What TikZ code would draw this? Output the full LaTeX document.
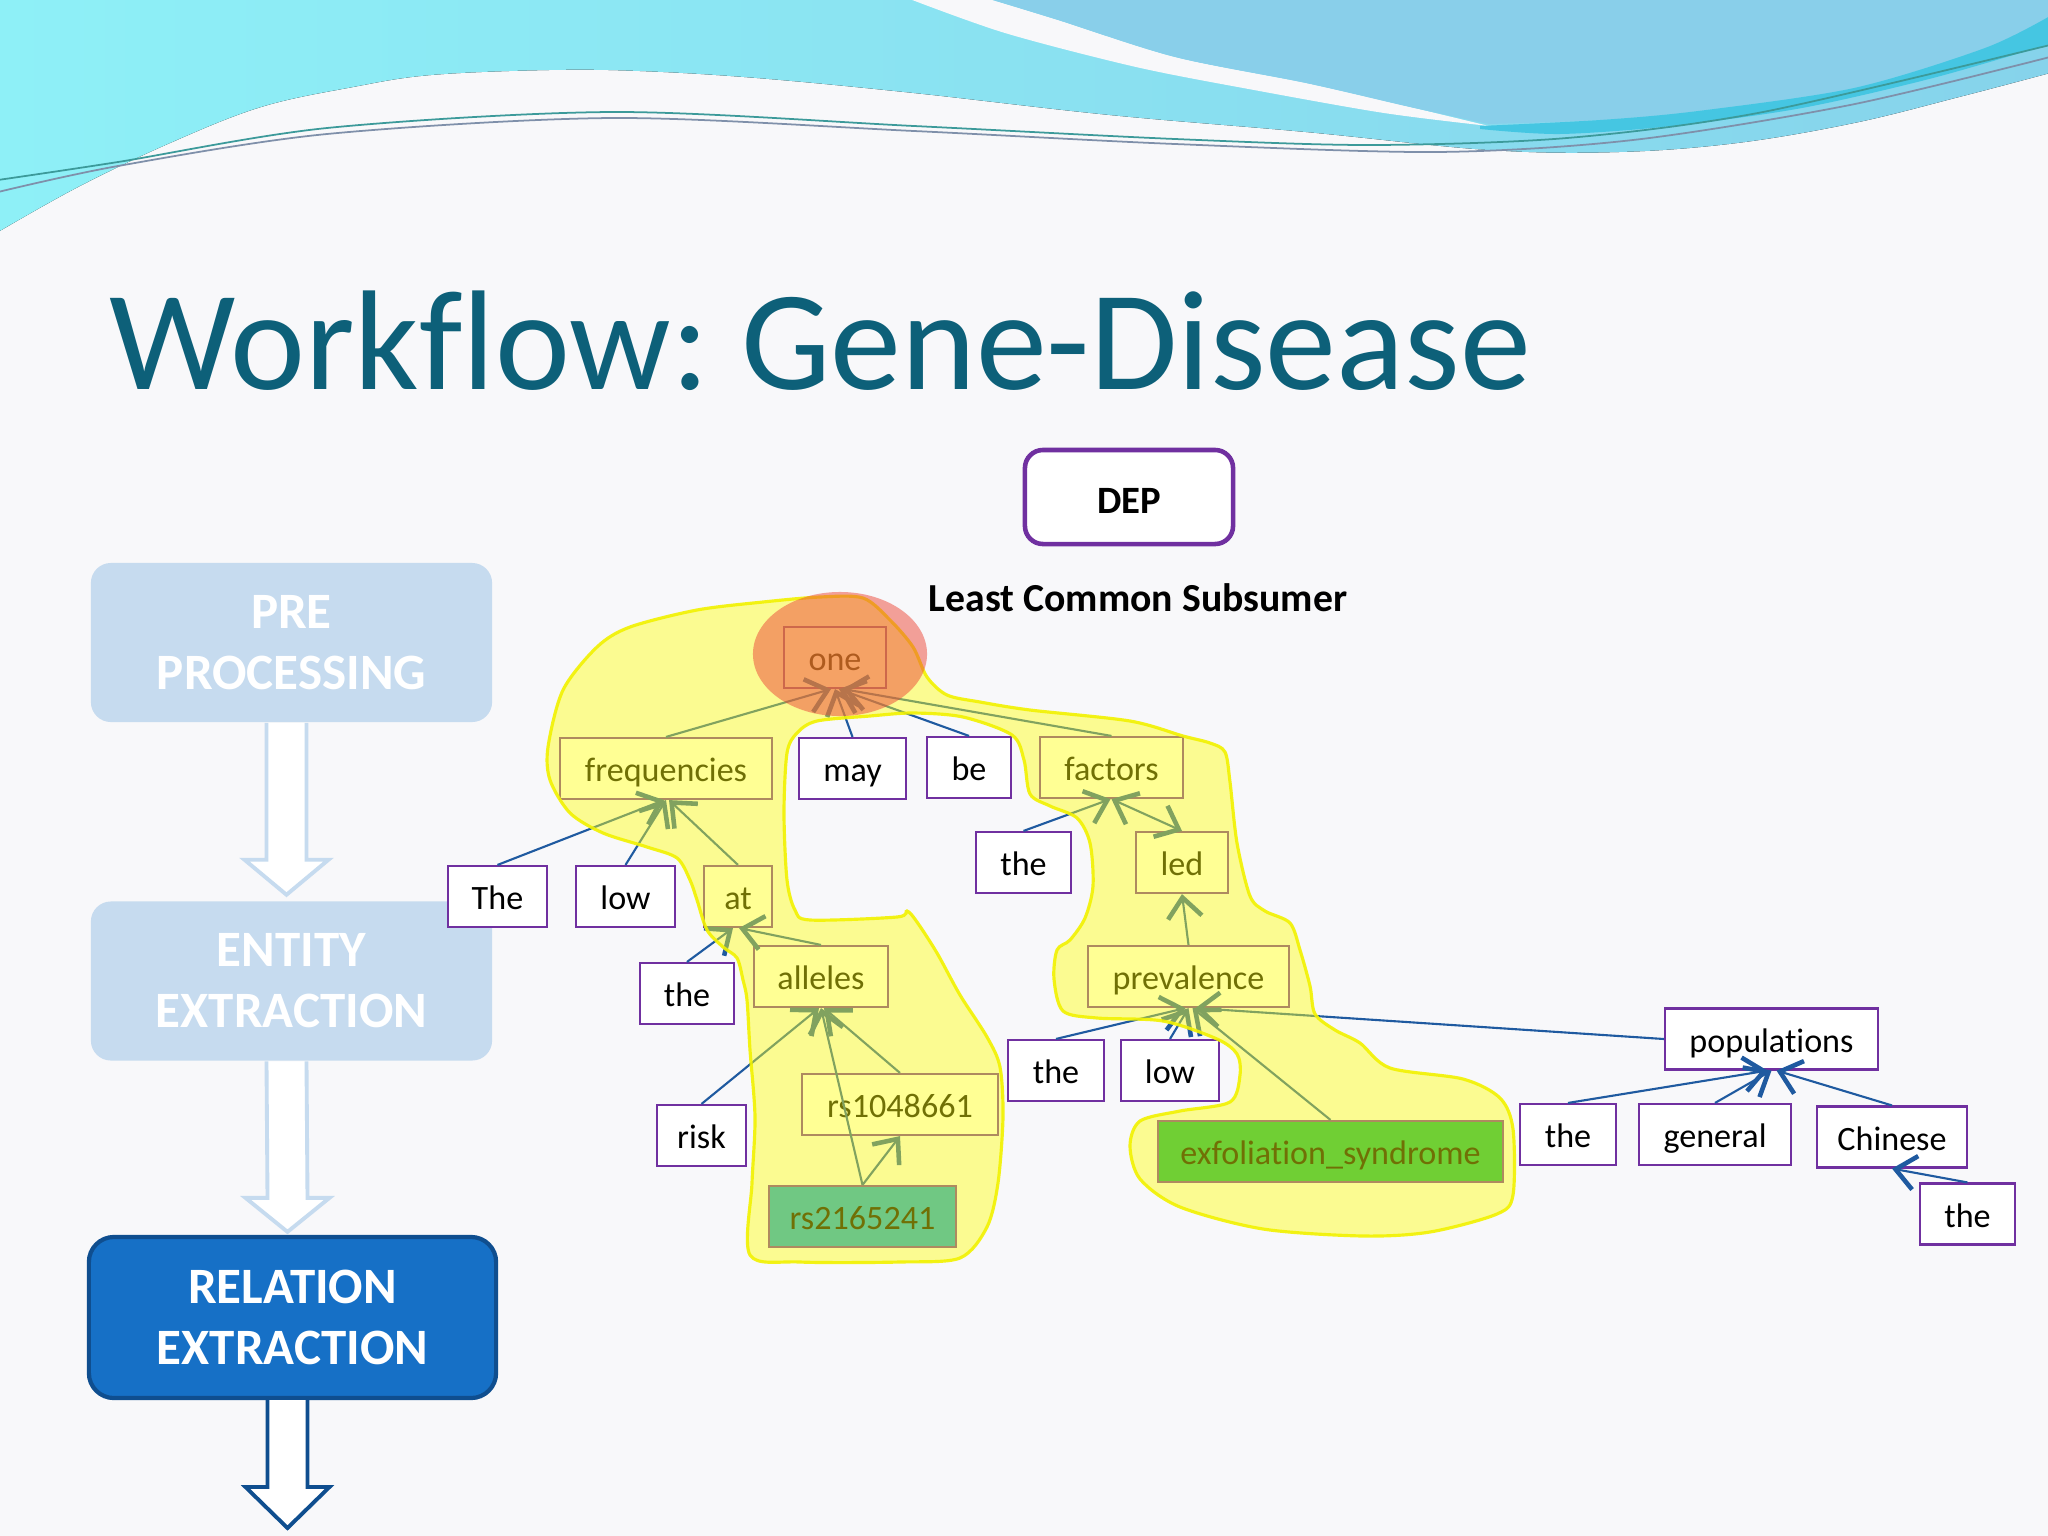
\documentclass[tikz,border=0pt]{standalone}
\usepackage{fontspec}
\setmainfont{Carlito}[Ligatures=NoCommon]
\usetikzlibrary{arrows.meta,calc}
\frenchspacing
\definecolor{bgc}{HTML}{F8F8FA}
\definecolor{titlec}{HTML}{0D6079}
\definecolor{purp}{HTML}{7030A0}
\definecolor{edgeb}{HTML}{1F5AA0}
\definecolor{paleb}{HTML}{C6DBEF}
\definecolor{relb}{HTML}{1670C6}
\definecolor{relbd}{HTML}{0F4E8F}
\definecolor{cyanw}{HTML}{8EF0F7}
\definecolor{cyanw2}{HTML}{86D3EB}
\definecolor{bluew}{HTML}{89CFEA}
\definecolor{ribbonc}{HTML}{45C6E2}
\definecolor{greenA}{HTML}{00AB54}
\definecolor{greenB}{HTML}{009EE0}
\definecolor{circc}{rgb}{0.93,0.28,0.22}
\definecolor{hiline}{HTML}{F2F200}
\definecolor{hifill}{rgb}{1,1,0.05}
\definecolor{waveA}{HTML}{3C9A9A}
\definecolor{waveB}{HTML}{7F90AA}
\begin{document}
\begin{tikzpicture}[x=0.01cm,y=-0.01cm,
  word/.style={draw=purp, line width=0.6pt, fill=white, inner sep=0pt,
    minimum height=0.61cm, text height=7.4pt, text depth=0pt,
    font=\fontsize{9.7}{11}\selectfont, text=black},
  dep/.style={draw=edgeb, line width=0.6pt,
    -{Straight Barb[length=0.2cm,width=0.34cm,line width=1.3pt]}},
  deptwo/.style={draw=edgeb, line width=0.6pt,
    {Straight Barb[length=0.2cm,width=0.34cm,line width=1.3pt]}-{Straight Barb[length=0.2cm,width=0.34cm,line width=1.3pt]}},
  stagebox/.style={minimum width=4.01cm, minimum height=1.59cm, align=center,
    text=white, font=\bfseries\fontsize{14.5}{17.4}\selectfont},
  blockarr/.style={line width=1.1pt, fill=white, line join=miter}
]
\useasboundingbox (0,0) rectangle (2048,1536);
\fill[bgc] (0,0) rectangle (2048,1536);

% ---- top waves
\fill[left color=cyanw, right color=cyanw2] (-2,-2) -- (2050,-2) -- (2050,73)
  -- plot[smooth, tension=0.6] coordinates {(2050,73) (1959,97) (1854,123) (1737,143) (1619,152) (1489,150) (1306,132) (1110,115) (914,93) (757,78) (640,71) (549,70) (431,75) (353,87) (261,107) (170,143) (78,187) (-2,232)} -- cycle;
\fill[bgc] plot[smooth] coordinates {(907,-2) (1005,33) (1136,67) (1254,90) (1384,113) (1489,126)}
  -- plot[smooth] coordinates {(1489,126) (1410,107) (1306,83) (1175,57) (1058,20) (986,-2)} -- cycle;
\fill[bluew] plot[smooth] coordinates {(986,-2) (1058,20) (1175,57) (1306,83) (1410,107) (1489,124)}
  -- plot[smooth] coordinates {(1489,124) (1600,120) (1698,111) (1854,88) (1985,48) (2050,18)} -- (2050,-2) -- cycle;
\fill[ribbonc] plot[smooth] coordinates {(1480,126) (1600,120) (1698,111) (1854,88) (1985,48) (2050,16)}
  -- (2050,44) -- plot[smooth] coordinates {(2050,44) (1933,78) (1802,108) (1672,126) (1560,134) (1480,129)} -- cycle;
\draw[waveA, line width=0.5pt] plot[smooth] coordinates {(-2,180) (118,162) (327,128) (614,112) (914,126) (1175,139) (1371,145) (1567,138) (1763,112) (2050,45)};
\draw[waveB, line width=0.5pt] plot[smooth] coordinates {(-2,192) (118,166) (327,134) (614,118) (914,131) (1175,144) (1436,152) (1633,140) (1850,105) (2050,57)};

% ---- title
\node[anchor=base west, inner sep=0pt, text=titlec, font=\fontsize{40.4}{48}\selectfont] (title) at (109,389) {Workflow: Gene-Disease};

% ---- left stages
\node[stagebox, fill=paleb, rounded corners=0.2cm] (pre) at (291.5,642.5) {PRE\\PROCESSING};
\node[stagebox, fill=paleb, rounded corners=0.2cm] (ent) at (291.5,981) {ENTITY\\EXTRACTION};
\node[stagebox, fill=relb, draw=relbd, line width=1.2pt, rounded corners=0.25cm, minimum width=4.07cm, minimum height=1.61cm] (rel) at (292.5,1317.5) {RELATION\\EXTRACTION};
\coordinate (a1s) at ([xshift=-0.05cm]pre.south);
\coordinate (a1t) at ([xshift=-0.05cm,yshift=0.06cm]ent.north);
\coordinate (a2s) at ([xshift=-0.05cm]ent.south);
\coordinate (a2t) at ([xshift=-0.05cm,yshift=0.03cm]rel.north);
\coordinate (a3s) at ([xshift=-0.05cm]rel.south);
\coordinate (a3t) at (287.5,1528);
\draw[blockarr, draw=paleb] ($(a1s)+(-20,0)$) -- ($(a1t)+(-20,-35)$) -- ($(a1t)+(-42,-35)$) -- (a1t) -- ($(a1t)+(42,-35)$) -- ($(a1t)+(20,-35)$) -- ($(a1s)+(20,0)$);
\draw[blockarr, draw=paleb] ($(a2s)+(-20,0)$) -- ($(a2t)+(-20,-34)$) -- ($(a2t)+(-42,-34)$) -- (a2t) -- ($(a2t)+(42,-34)$) -- ($(a2t)+(20,-34)$) -- ($(a2s)+(20,0)$);
\draw[blockarr, draw=relbd] ($(a3s)+(-20,0)$) -- ($(a3t)+(-20,-41)$) -- ($(a3t)+(-42,-41)$) -- (a3t) -- ($(a3t)+(42,-41)$) -- ($(a3t)+(20,-41)$) -- ($(a3s)+(20,0)$);

% ---- DEP and label
\node[draw=purp, line width=1.3pt, rounded corners=0.18cm, fill=white, minimum width=2.08cm, minimum height=0.94cm, text height=9.2pt, text depth=0pt, font=\bfseries\fontsize{11}{13}\selectfont] (dep) at (1129,497) {DEP};
\node[font=\bfseries\fontsize{11.3}{13}\selectfont, inner sep=0pt] (lcs) at (1138,598) {Least Common Subsumer};

% ---- tree words
\node[word, minimum width=1.02cm] (one) at (835,657.5) {one};
\node[word, minimum width=2.12cm] (frequencies) at (666,768.5) {frequencies};
\node[word, minimum width=1.07cm] (may) at (852.5,768.5) {may};
\node[word, minimum width=0.84cm] (be) at (969,767.5) {be};
\node[word, minimum width=1.43cm] (factors) at (1111.5,767.5) {factors};
\node[word, minimum width=0.99cm] (The) at (497.5,896.5) {The};
\node[word, minimum width=0.99cm] (low) at (625.5,896.5) {low};
\node[word, minimum width=0.68cm] (at) at (738,896.5) {at};
\node[word, minimum width=0.95cm] (theA) at (1023.5,862.5) {the};
\node[word, minimum width=0.92cm] (led) at (1182,862.5) {led};
\node[word, minimum width=0.94cm] (theB) at (687,993.5) {the};
\node[word, minimum width=1.34cm] (alleles) at (821,976.5) {alleles};
\node[word, minimum width=2.01cm] (prevalence) at (1188.5,976.5) {prevalence};
\node[word, minimum width=0.89cm] (risk) at (701.5,1135.5) {risk};
\node[word, minimum width=1.96cm] (rsA) at (900,1104.5) {rs1048661};
\node[word, minimum width=1.87cm, fill=greenB] (rsB) at (862.5,1216.5) {rs2165241};
\node[word, minimum width=0.96cm] (theC) at (1056,1070.5) {the};
\node[word, minimum width=0.98cm] (lowB) at (1170,1070.5) {low};
\node[word, minimum width=3.45cm, fill=greenA] (exf) at (1330.5,1151.5) {exfoliation\_syndrome};
\node[word, minimum width=2.13cm] (populations) at (1771.5,1039) {populations};
\node[word, minimum width=0.96cm] (theD) at (1568,1134.5) {the};
\node[word, minimum width=1.52cm] (general) at (1715,1134.5) {general};
\node[word, minimum width=1.50cm] (Chinese) at (1892,1137) {Chinese};
\node[word, minimum width=0.95cm] (theE) at (1967.5,1214) {the};

% ---- dependency edges
\draw[dep] (frequencies.north) -- ([xshift=-0.04cm]one.south);
\draw[dep] (may.north) -- (one.south);
\draw[dep] (be.north) -- ([xshift=0.04cm]one.south);
\draw[dep] (factors.north) -- ([xshift=0.08cm]one.south);
\draw[dep] (The.north) -- ([xshift=-0.02cm]frequencies.south);
\draw[dep] (low.north) -- (frequencies.south);
\draw[dep] (at.north) -- ([xshift=0.03cm]frequencies.south);
\draw[dep] (theB.north) -- ([xshift=-0.05cm]at.south);
\draw[dep] (alleles.north) -- ([xshift=0.01cm]at.south);
\draw[dep] (risk.north) -- ([xshift=-0.02cm]alleles.south);
\draw[dep] (rsB.north) -- (alleles.south);
\draw[dep] (rsA.north) -- ([xshift=0.03cm]alleles.south);
\draw[dep] (rsB.north) -- (rsA.south);
\draw[dep] (theA.north) -- ([xshift=-0.01cm]factors.south);
\draw[deptwo] (factors.south) -- (led.north);
\draw[dep] (prevalence.north) -- (led.south);
\draw[dep] (theC.north) -- ([xshift=-0.03cm]prevalence.south);
\draw[dep] (lowB.north) -- (prevalence.south);
\draw[dep] (exf.north) -- ([xshift=0.04cm]prevalence.south);
\draw[dep] (populations.west) -- ([xshift=0.07cm]prevalence.south);
\draw[dep] (theD.north) -- ([xshift=-0.04cm]populations.south);
\draw[dep] (general.north) -- (populations.south);
\draw[dep] (Chinese.north) -- ([xshift=0.05cm]populations.south);
\draw[dep] (theE.north) -- (Chinese.south);

% ---- highlight overlay
\def\blobpath{plot[smooth cycle, tension=0.5] coordinates {
(763,602) (820,597) (863,598) (890,620) (913,647) (927,677) (947,695) (980,702) (1030,710) (1130,721) (1183,736) (1210,743) (1225,752) (1230,782) (1237,843) (1250,896) (1265,911) (1290,923) (1300,950) (1310,986) (1315,1014) (1335,1030) (1360,1043) (1390,1068) (1463,1079) (1500,1098) (1513,1129) (1513,1195) (1497,1214) (1430,1232) (1363,1236) (1263,1229) (1180,1207) (1140,1179) (1130,1146) (1140,1121) (1180,1111) (1230,1102) (1240,1075) (1237,1054) (1217,1039) (1163,1021) (1097,1018) (1063,1011) (1054,979) (1057,950) (1070,940) (1085,918) (1093,886) (1090,843) (1077,818) (1050,806) (1030,794) (1024,760) (1012,735) (963,717) (913,713) (870,716) (817,721) (797,733) (787,753) (784,813) (787,880) (795,910) (810,920) (897,917) (907,911) (917,922) (937,953) (960,995) (987,1037) (1000,1067) (1003,1117) (998,1183) (987,1227) (960,1258) (900,1262) (800,1262) (750,1255) (752,1183) (755,1117) (750,1050) (747,1000) (743,980) (737,958) (723,947) (707,930) (697,900) (690,880) (677,858) (647,847) (603,833) (570,813) (550,780) (548,747) (563,690) (597,647) (630,627) (697,610)}}
\fill[hifill, fill opacity=0.44] \blobpath;
\draw[hiline, line width=0.9pt, opacity=0.9] \blobpath;
\fill[circc, fill opacity=0.5] (840,654) ellipse [x radius=0.87cm, y radius=0.62cm];
\end{tikzpicture}
\end{document}
